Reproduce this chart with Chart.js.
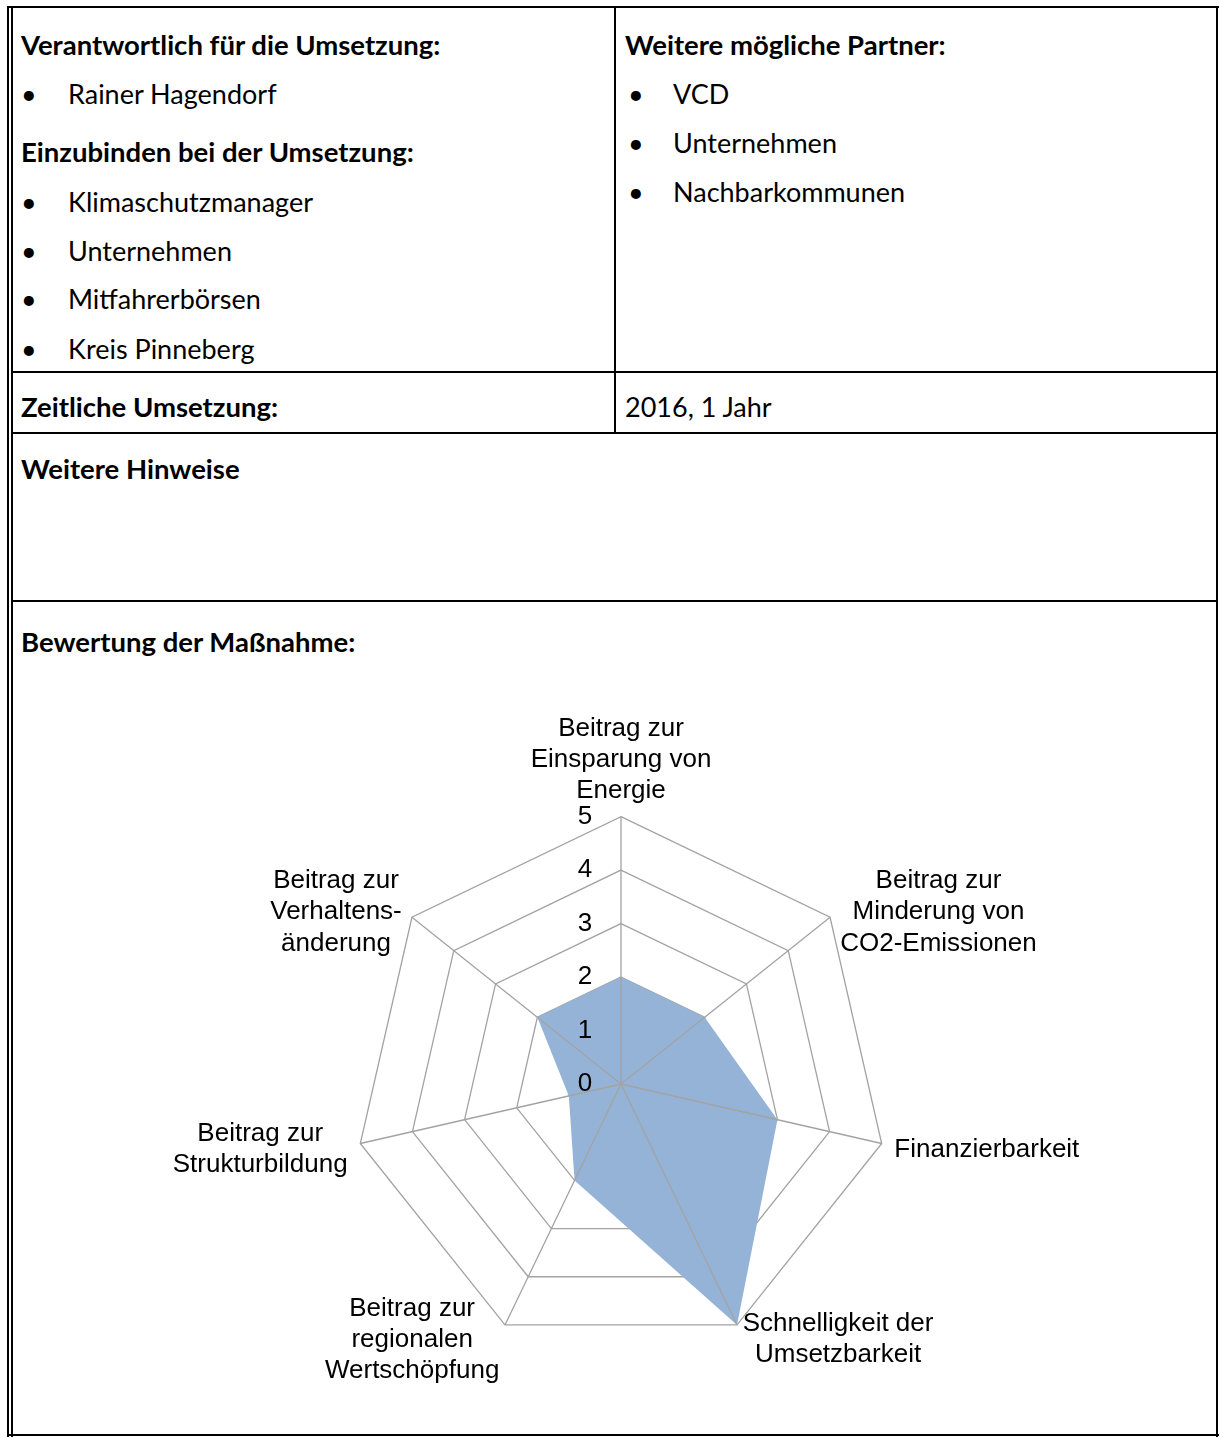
<!DOCTYPE html>
<html>
<head>
<meta charset="utf-8">
<script src="https://cdn.jsdelivr.net/npm/chart.js@4"></script>
<style>
  html, body { margin: 0; padding: 0; background: #fff; }
  #page { position: relative; width: 1220px; height: 1437px; overflow: hidden; font-family: Lato, "Open Sans", sans-serif; color: #000; }
  .ln { position: absolute; background: #000; }
  .t { position: absolute; font-size: 27px; line-height: 30px; white-space: nowrap; }
  .b { font-weight: bold; font-size: 27.5px; }
  #chartBox { position: absolute; left: 30px; top: 696px; width: 1182px; height: 748px; }
</style>
</head>
<body>
<div id="page">
  <div id="chartBox"><canvas id="radar"></canvas></div>

  <div class="t b" style="left:21px; top:30px">Verantwortlich für die Umsetzung:</div>
  <div class="t" style="left:21px; top:79px">•</div><div class="t" style="left:68px; top:79px">Rainer Hagendorf</div>
  <div class="t b" style="left:21px; top:137px">Einzubinden bei der Umsetzung:</div>
  <div class="t" style="left:21px; top:187px">•</div><div class="t" style="left:68px; top:187px">Klimaschutzmanager</div>
  <div class="t" style="left:21px; top:236px">•</div><div class="t" style="left:68px; top:236px">Unternehmen</div>
  <div class="t" style="left:21px; top:284px">•</div><div class="t" style="left:68px; top:284px">Mitfahrerbörsen</div>
  <div class="t" style="left:21px; top:334px">•</div><div class="t" style="left:68px; top:334px">Kreis Pinneberg</div>

  <div class="t b" style="left:625px; top:30px">Weitere mögliche Partner:</div>
  <div class="t" style="left:628px; top:79px">•</div><div class="t" style="left:673px; top:79px">VCD</div>
  <div class="t" style="left:628px; top:128px">•</div><div class="t" style="left:673px; top:128px">Unternehmen</div>
  <div class="t" style="left:628px; top:177px">•</div><div class="t" style="left:673px; top:177px">Nachbarkommunen</div>

  <div class="t b" style="left:21px; top:392px">Zeitliche Umsetzung:</div>
  <div class="t" style="left:625px; top:392px">2016, 1 Jahr</div>
  <div class="t b" style="left:21px; top:454px">Weitere Hinweise</div>
  <div class="t b" style="left:21px; top:627px">Bewertung der Maßnahme:</div>

  <!-- table borders -->
  <div class="ln" style="left:7px; top:6px; width:1212px; height:2px"></div>
  <div class="ln" style="left:7px; top:6px; width:2px; height:1431px"></div>
  <div class="ln" style="left:11px; top:6px; width:2px; height:1431px"></div>
  <div class="ln" style="left:1216px; top:6px; width:2px; height:1431px"></div>
  <div class="ln" style="left:7px; top:1434px; width:1212px; height:2px"></div>
  <div class="ln" style="left:614px; top:6px; width:2px; height:427px"></div>
  <div class="ln" style="left:11px; top:371px; width:1207px; height:2px"></div>
  <div class="ln" style="left:11px; top:432px; width:1207px; height:2px"></div>
  <div class="ln" style="left:11px; top:600px; width:1207px; height:2px"></div>
</div>
<script>
const categories = [
  ['Beitrag zur', 'Einsparung von', 'Energie'],
  ['Beitrag zur', 'Minderung von', 'CO2-Emissionen'],
  'Finanzierbarkeit',
  ['Schnelligkeit der', 'Umsetzbarkeit'],
  ['Beitrag zur', 'regionalen', 'Wertschöpfung'],
  ['Beitrag zur', 'Strukturbildung'],
  ['Beitrag zur', 'Verhaltens-', 'änderung']
];
const ratings = [2, 2, 3, 5, 2, 1, 2];
const scaleMax = 5;

const gridColor = '#a3a3a3';
const arial = '"Liberation Sans", Arial, sans-serif';
const labelGap = 13;
let ticksOnTop = false;

// Excel-style labels: lines centred, side labels centred on their spoke
const radarExtras = {
  id: 'radarExtras',
  afterLayout(chart) {
    const r = chart.scales.r;
    r._pointLabelItems.forEach((item, i) => {
      const h = item.bottom - item.top;
      item.x = (item.left + item.right) / 2;
      item.textAlign = 'center';
      if (i > 0) {
        const p = r.getPointPosition(i, r.drawingArea + labelGap);
        item.y = p.y - h / 2;
      }
      item.y += 3;
    });
  },
  // spokes and value labels sit on top of the filled area
  afterDatasetsDraw(chart) {
    const r = chart.scales.r;
    const ctx = chart.ctx;
    ctx.save();
    ctx.strokeStyle = gridColor;
    ctx.lineWidth = 1.3;
    ctx.beginPath();
    categories.forEach((c, i) => {
      const p = r.getPointPosition(i, r.drawingArea);
      ctx.moveTo(r.xCenter, r.yCenter);
      ctx.lineTo(p.x, p.y);
    });
    ctx.stroke();
    ctx.restore();
    ticksOnTop = true;
    r.drawLabels();
    ticksOnTop = false;
  }
};

const chart = new Chart(document.getElementById('radar'), {
  type: 'radar',
  data: {
    labels: categories,
    datasets: [{
      data: ratings,
      backgroundColor: '#95b3d7',
      borderWidth: 0,
      pointRadius: 0,
      fill: true
    }]
  },
  options: {
    responsive: true,
    maintainAspectRatio: false,
    animation: false,
    plugins: { legend: { display: false }, tooltip: { enabled: false } },
    scales: {
      r: {
        min: -0.001,   // so the 0 label is drawn too
        max: scaleMax,
        angleLines: { display: false },
        grid: { color: gridColor, lineWidth: 1.3 },
        pointLabels: { color: '#000', font: { family: arial, size: 26, lineHeight: 1.2 }, padding: 0 },
        ticks: {
          stepSize: 1,
          color: () => ticksOnTop ? '#000' : 'rgba(0,0,0,0)',
          showLabelBackdrop: false,
          backdropPadding: 0,
          font: { family: arial, size: 26, lineHeight: 1 },
          callback: (v, i, ticks) => {
            if (v < 0 && ticks.some(t => t.value === 0)) return '';
            return String(Math.round(Math.abs(v))) + '          ';
          }
        }
      }
    }
  },
  plugins: [radarExtras]
});
</script>
</body>
</html>
